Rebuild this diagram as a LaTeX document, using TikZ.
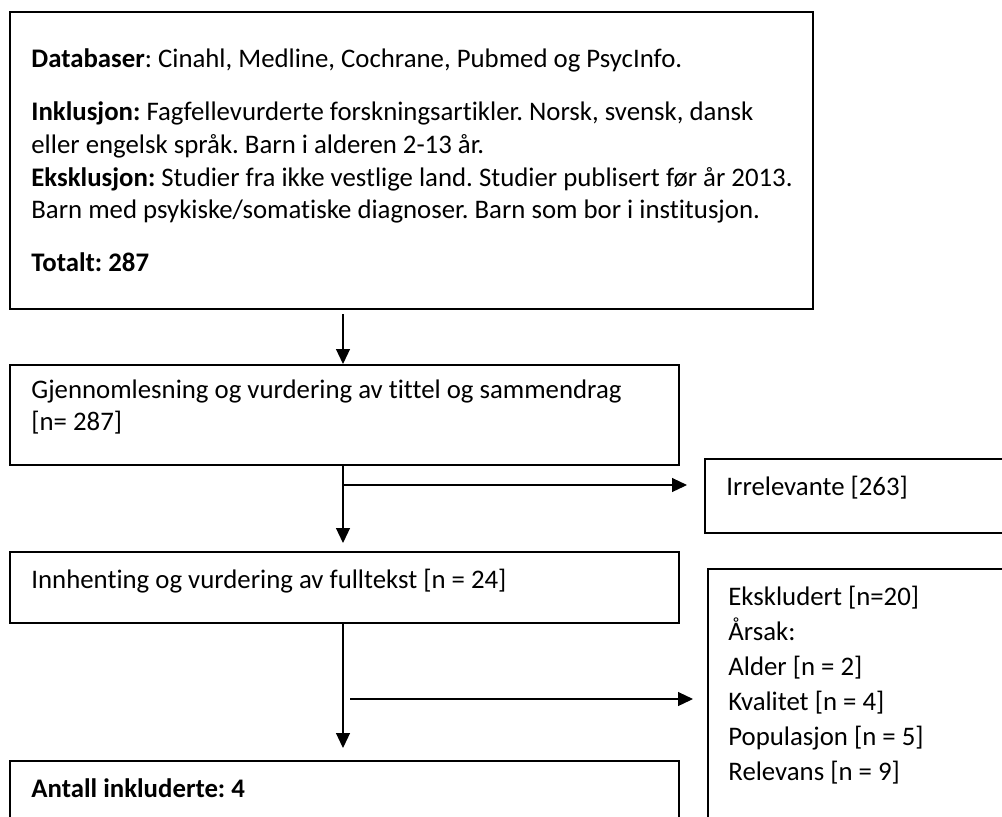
\documentclass[tikz,border=0pt]{standalone}
\usepackage{fontspec}
\setmainfont{Carlito}[Ligatures={NoCommon}]
\frenchspacing
\usetikzlibrary{arrows.meta,calc}
\tikzset{
  box/.style={draw=black, line width=1pt, rectangle, inner sep=0pt, anchor=north west},
  txt/.style={inner sep=0pt, anchor=base west, font=\fontsize{13.4pt}{16pt}\selectfont},
  conn/.style={draw=black, line width=0.6pt, -{Triangle[length=7.5pt,width=7pt]}}
}
\begin{document}
\begin{tikzpicture}[x=0.5pt,y=-0.5pt]
\useasboundingbox (0,0) rectangle (1002,816);
\clip (0,0) rectangle (1002,816);
\fill[white] (0,0) rectangle (1002,816);
% boxes
\node[box, minimum width=401.5pt, minimum height=148.5pt] (b1) at (9,11) {};
\node[box, minimum width=334.5pt, minimum height=50pt] (b2) at (9,364) {};
\node[box, minimum width=334.5pt, minimum height=35.5pt] (b3) at (9,551) {};
\node[box, minimum width=158pt, minimum height=37pt] (b4) at (704,458) {};
\node[box, minimum width=158pt, minimum height=140pt] (b5) at (707,568) {};
\node[box, minimum width=334.5pt, minimum height=45pt] (b6) at (9,760) {};
% texts box 1
\node[txt] (t1a) at (31,67) {\textbf{Databaser}: Cinahl, Medline, Cochrane, Pubmed og PsycInfo.};
\node[txt] (t1b) at (31,120) {\textbf{Inklusjon:} Fagfellevurderte forskningsartikler. Norsk, svensk, dansk};
\node[txt] (t1c) at (31,153) {eller engelsk språk. Barn i alderen 2-13 år.};
\node[txt] (t1d) at (31,186) {\textbf{Eksklusjon:} Studier fra ikke vestlige land. Studier publisert før år 2013.};
\node[txt] (t1e) at (31,218) {Barn med psykiske/somatiske diagnoser. Barn som bor i institusjon.};
\node[txt] (t1f) at (31,271) {\textbf{Totalt: 287}};
% box 2
\node[txt] (t2a) at (31,398) {Gjennomlesning og vurdering av tittel og sammendrag};
\node[txt] (t2b) at (31,430) {[n= 287]};
% box 3
\node[txt] (t3) at (31,588) {Innhenting og vurdering av fulltekst [n = 24]};
% box 4
\node[txt] (t4) at (726,495) {Irrelevante [263]};
% box 5
\node[txt] (t5a) at (728,605) {Ekskludert [n=20]};
\node[txt] (t5b) at (728,640) {Årsak:};
\node[txt] (t5c) at (728,675) {Alder [n = 2]};
\node[txt] (t5d) at (728,710) {Kvalitet [n = 4]};
\node[txt] (t5e) at (728,745) {Populasjon [n = 5]};
\node[txt] (t5f) at (728,780) {Relevans [n = 9]};
% box 6
\node[txt] (t6) at (31,797) {\textbf{Antall inkluderte: 4}};
% connectors
\coordinate (spine) at (343,0);
\coordinate (h1s) at (343,485);
\coordinate (h2s) at (350,699);
\draw[conn, shorten <=2pt] (b1.south -| spine) -- (b2.north -| spine);
\draw[conn, shorten >=4pt] (b2.south -| spine) -- (b3.north -| spine);
\draw[conn, shorten >=6pt] (b3.south -| spine) -- (b6.north -| spine);
\draw[conn, shorten >=8.5pt] (h1s) -- (b4.west |- h1s);
\draw[conn, shorten >=7pt] (h2s) -- (b5.west |- h2s);
\end{tikzpicture}
\end{document}
